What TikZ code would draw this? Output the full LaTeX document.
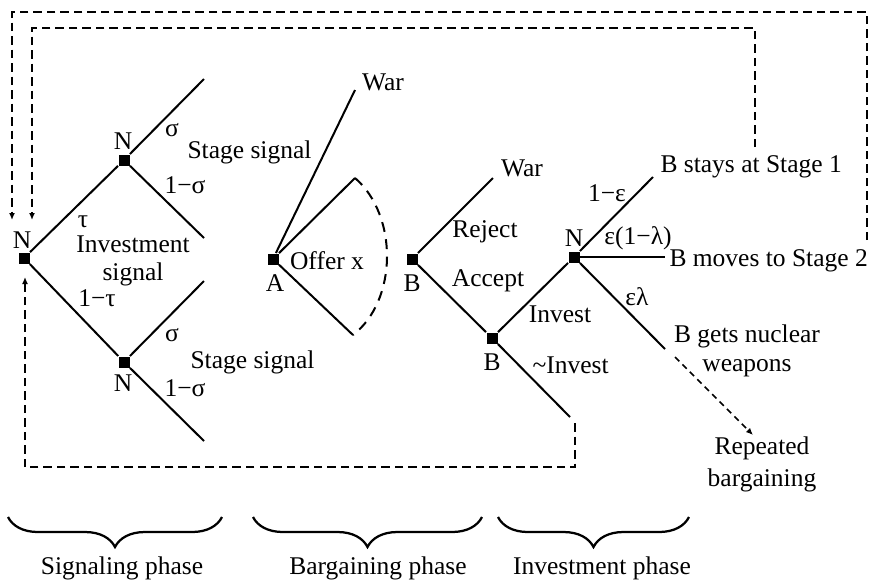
\documentclass[tikz,border=0pt]{standalone}
\usepackage{fontspec}
\setmainfont{Liberation Serif}
\usetikzlibrary{arrows.meta,decorations.pathreplacing}

\begin{document}
\begin{tikzpicture}[x=0.4pt,y=-0.4pt,
    dec/.style={rectangle, fill=black, minimum size=4.4pt, inner sep=0pt},
    branch/.style={line width=0.8pt},
    feedback/.style={line width=0.8pt, dash pattern=on 3.4pt off 2pt, -{Latex[length=2.8pt,width=2.4pt]}},
    offers/.style={line width=0.8pt, dash pattern=on 4pt off 3pt},
    lbl/.style={font=\fontsize{10.2}{11.4}\selectfont, inner sep=0pt},
    phase/.style={line width=0.9pt, decorate, decoration={brace, mirror, amplitude=12pt}}]
  \useasboundingbox (0,0) rectangle (872,582);

  % Signaling phase
  \node[dec] (n0) at (24,258) {};
  \node[dec] (n1) at (124,160) {};
  \node[dec] (n2) at (124,362) {};
  \coordinate (u1) at (204,79);
  \coordinate (u2) at (204,238);
  \coordinate (l1) at (204,281);
  \coordinate (l2) at (204,441);
  \draw[branch] (u1) -- (n1) -- (n0) -- (n2) -- (l2);
  \draw[branch] (n1) -- (u2);
  \draw[branch] (n2) -- (l1);
  \node[lbl] (n0t) at (22,240) {N};
  \node[lbl] (n1t) at (123,141) {N};
  \node[lbl] (n2t) at (123,383) {N};
  \node[lbl] (tau) at (83,222) {τ};
  \node[lbl, align=center] (inv) at (133,261) {Investment\\signal};
  \node[lbl] (ntau) at (97,298) {1−τ};
  \node[lbl] (sg1) at (172,130) {σ};
  \node[lbl] (ns1) at (185,185) {1−σ};
  \node[lbl, anchor=west] (st1) at (187,152) {Stage signal};
  \node[lbl] (sg2) at (172,335) {σ};
  \node[lbl] (ns2) at (185,388) {1−σ};
  \node[lbl, anchor=west] (st2) at (190,362) {Stage signal};

  % Bargaining phase
  \node[dec] (a) at (273,259) {};
  \coordinate (aw) at (355,90);
  \coordinate (a1) at (355,178);
  \coordinate (a2) at (353,335);
  \draw[branch] (a) -- (aw);
  \draw[branch] (a) -- (a1);
  \draw[branch] (a) -- (a2);
  \draw[offers] (a1) .. controls (398,215) and (398,300) .. (a2);
  \node[lbl] (at) at (275,283) {A};
  \node[lbl] (war1) at (383,82) {War};
  \node[lbl] (offer) at (327,261) {Offer x};

  \node[dec] (b1) at (412,259) {};
  \node[dec] (b2) at (492,338) {};
  \coordinate (bw) at (493,178);
  \draw[branch] (bw) -- (b1) -- (b2);
  \node[lbl] (b1t) at (412,283) {B};
  \node[lbl] (b2t) at (492,362) {B};
  \node[lbl] (war2) at (522,168) {War};
  \node[lbl] (rej) at (485,232) {Reject};
  \node[lbl] (acc) at (488,281) {Accept};

  % Investment phase
  \node[dec] (n3) at (574,257) {};
  \coordinate (ni) at (570,417);
  \coordinate (s1) at (653,177);
  \coordinate (s2) at (665,257);
  \coordinate (s3) at (665,349);
  \draw[branch] (b2) -- (n3);
  \draw[branch] (b2) -- (ni);
  \draw[branch] (n3) -- (s1);
  \draw[branch] (n3) -- (s2);
  \draw[branch] (n3) -- (s3);
  \node[lbl] (invt) at (560,314) {Invest};
  \node[lbl, anchor=west] (ninv) at (532,365) {\textasciitilde Invest};
  \node[lbl] (n3t) at (574,238) {N};
  \node[lbl] (eps1) at (607,193) {1−ε};
  \node[lbl] (eps2) at (638,238) {ε(1−λ)};
  \node[lbl] (eps3) at (637,297) {ελ};
  \node[lbl, anchor=west] (stay) at (660,167) {B stays at Stage 1};
  \node[lbl, anchor=west] (move) at (669,261) {B moves to Stage 2};
  \node[lbl, align=center] (nuke) at (747,351) {B gets nuclear\\weapons};
  \node[lbl, align=center, font=\fontsize{10.2}{12.8}\selectfont] (rep) at (762,464) {Repeated\\bargaining};

  % Feedback loops
  \coordinate (fo) at (867,240);
  \coordinate (fi) at (755,147);
  \coordinate (fb) at (575,423);
  \coordinate (ro) at (12,220);
  \coordinate (ri) at (32,220);
  \coordinate (rb) at (25,277);
  \coordinate (nk) at (675,357);
  \coordinate (rp) at (753,435);
  \draw[feedback] (fo) -- (867,12) -- (12,12) -- (ro);
  \draw[feedback] (fi) -- (755,28) -- (32,28) -- (ri);
  \draw[feedback] (fb) -- (575,467) -- (25,467) -- (rb);
  \draw[line width=0.7pt, dash pattern=on 2.4pt off 1.8pt, -{Latex[length=2.8pt,width=2.4pt]}] (nk) -- (rp);

  % Phases
  \coordinate (p1a) at (8,517);
  \coordinate (p1b) at (222,517);
  \coordinate (p2a) at (253,517);
  \coordinate (p2b) at (482,517);
  \coordinate (p3a) at (498,517);
  \coordinate (p3b) at (689,517);
  \draw[phase] (p1a) -- (p1b);
  \draw[phase] (p2a) -- (p2b);
  \draw[phase] (p3a) -- (p3b);
  \node[lbl] (ph1) at (122,568) {Signaling phase};
  \node[lbl] (ph2) at (378,568) {Bargaining phase};
  \node[lbl] (ph3) at (602,568) {Investment phase};
\end{tikzpicture}
\end{document}
